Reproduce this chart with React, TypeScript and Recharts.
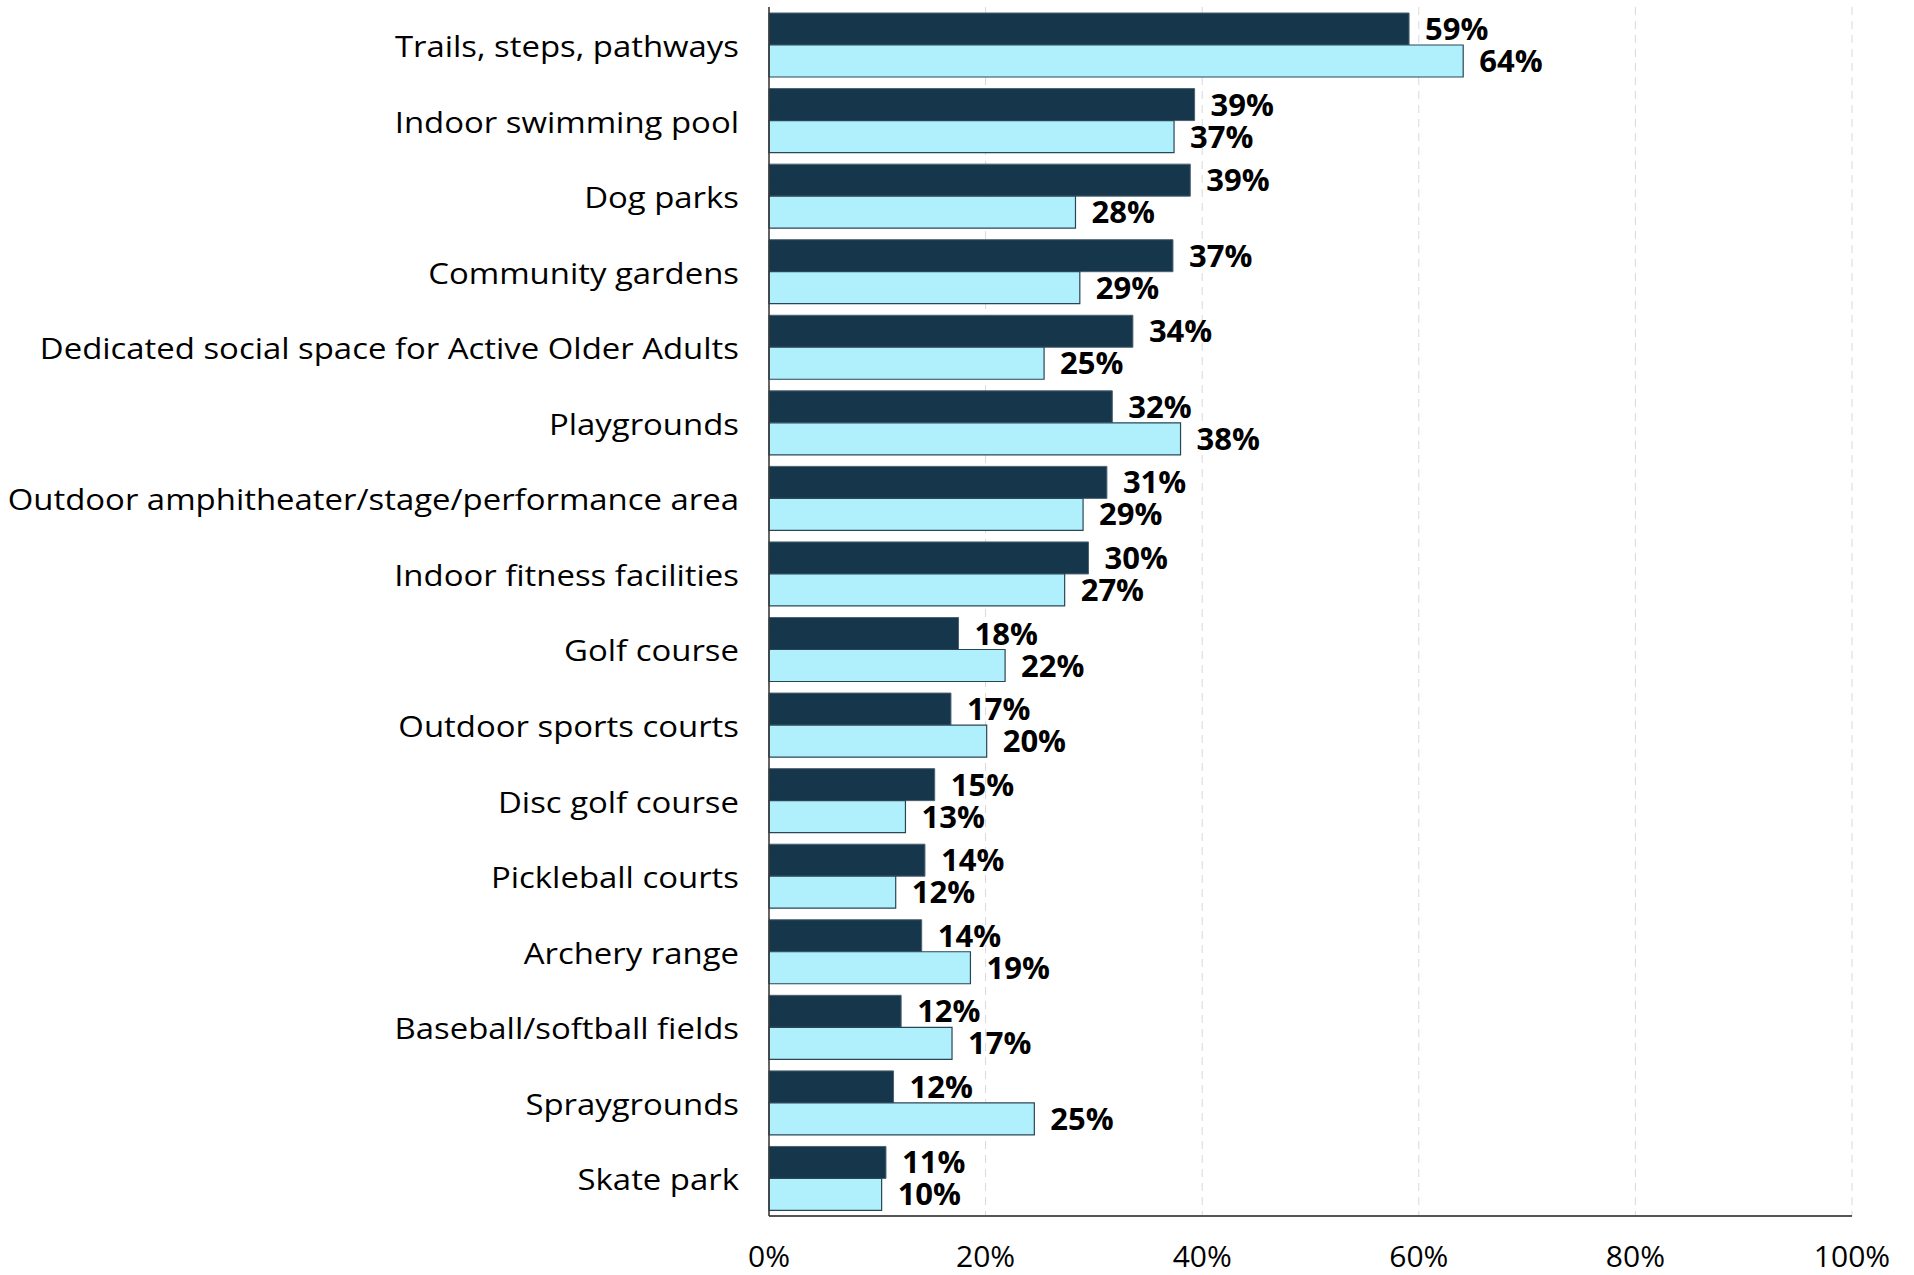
import React from 'react';
import { BarChart, Bar, XAxis, YAxis, CartesianGrid, LabelList } from 'recharts';

const categories = [
  'Trails, steps, pathways',
  'Indoor swimming pool',
  'Dog parks',
  'Community gardens',
  'Dedicated social space for Active Older Adults',
  'Playgrounds',
  'Outdoor amphitheater/stage/performance area',
  'Indoor fitness facilities',
  'Golf course',
  'Outdoor sports courts',
  'Disc golf course',
  'Pickleball courts',
  'Archery range',
  'Baseball/softball fields',
  'Spraygrounds',
  'Skate park',
];

const seriesDark = [59.1, 39.3, 38.9, 37.3, 33.6, 31.7, 31.2, 29.5, 17.5, 16.8, 15.3, 14.4, 14.1, 12.2, 11.5, 10.8];
const seriesLight = [64.1, 37.4, 28.3, 28.7, 25.4, 38.0, 29.0, 27.3, 21.8, 20.1, 12.6, 11.7, 18.6, 16.9, 24.5, 10.4];
const labelsDark = ['59%', '39%', '39%', '37%', '34%', '32%', '31%', '30%', '18%', '17%', '15%', '14%', '14%', '12%', '12%', '11%'];
const labelsLight = ['64%', '37%', '28%', '29%', '25%', '38%', '29%', '27%', '22%', '20%', '13%', '12%', '19%', '17%', '25%', '10%'];
const xTicks = [0, 20, 40, 60, 80, 100];

const data = categories.map((name, i) => ({
  name,
  dark: seriesDark[i],
  light: seriesLight[i],
  darkLabel: labelsDark[i],
  lightLabel: labelsLight[i],
}));

const FONT = '"Open Sans", "Noto Sans", sans-serif';

const CategoryTick = (props: any) => {
  const { x, y, payload } = props;
  const k = 0.86;
  const cy = y + 2;
  return (
    <text
      x={x}
      y={cy}
      dy="0.36em"
      textAnchor="end"
      fill="#000"
      fontSize={32.9}
      fontFamily={FONT}
      transform={`translate(0 ${cy}) scale(1 ${k}) translate(0 ${-cy})`}
    >
      {payload.value}
    </text>
  );
};

export default function App() {
  return (
    <div style={{ position: 'absolute', left: 0, top: 0, width: 1914, height: 1275, background: '#fff' }}>
      <BarChart
        width={1914}
        height={1275}
        data={data}
        layout="vertical"
        margin={{ top: 7, right: 62, bottom: 0, left: 0 }}
        barGap={0}
      >
        <CartesianGrid horizontal={false} vertical={true} stroke="#d9d9d9" strokeDasharray="8 6" />
        <XAxis
          type="number"
          domain={[0, 100]}
          ticks={xTicks}
          tickFormatter={(v: number) => `${v}%`}
          height={59}
          tickLine={false}
          tickSize={0}
          tickMargin={30}
          axisLine={{ stroke: '#555', strokeWidth: 2 }}
          tick={{ fill: '#000', fontSize: 30, fontFamily: FONT }}
          interval={0}
        />
        <XAxis xAxisId="top" orientation="top" type="number" domain={[0, 100]} height={0} tick={false} tickLine={false} axisLine={{ stroke: '#888', strokeWidth: 1.5 }} />
        <YAxis
          type="category"
          dataKey="name"
          width={769}
          tickLine={false}
          tickSize={0}
          tickMargin={30}
          axisLine={{ stroke: '#333', strokeWidth: 1.5 }}
          tick={<CategoryTick />}
          interval={0}
        />
        <YAxis yAxisId="right" orientation="right" type="category" dataKey="name" width={0} tick={false} tickLine={false} axisLine={{ stroke: '#555', strokeWidth: 1.5 }} />
        <Bar dataKey="dark" fill="#16364b" stroke="#4a6272" strokeWidth={1} barSize={32} isAnimationActive={false}>
          <LabelList dataKey="darkLabel" position="right" offset={16} fill="#000" fontSize={31} fontWeight={700} fontFamily={FONT} />
        </Bar>
        <Bar dataKey="light" fill="#b0f0fc" stroke="#2a4656" strokeWidth={1.2} barSize={32} isAnimationActive={false}>
          <LabelList dataKey="lightLabel" position="right" offset={16} fill="#000" fontSize={31} fontWeight={700} fontFamily={FONT} />
        </Bar>
      </BarChart>
    </div>
  );
}
